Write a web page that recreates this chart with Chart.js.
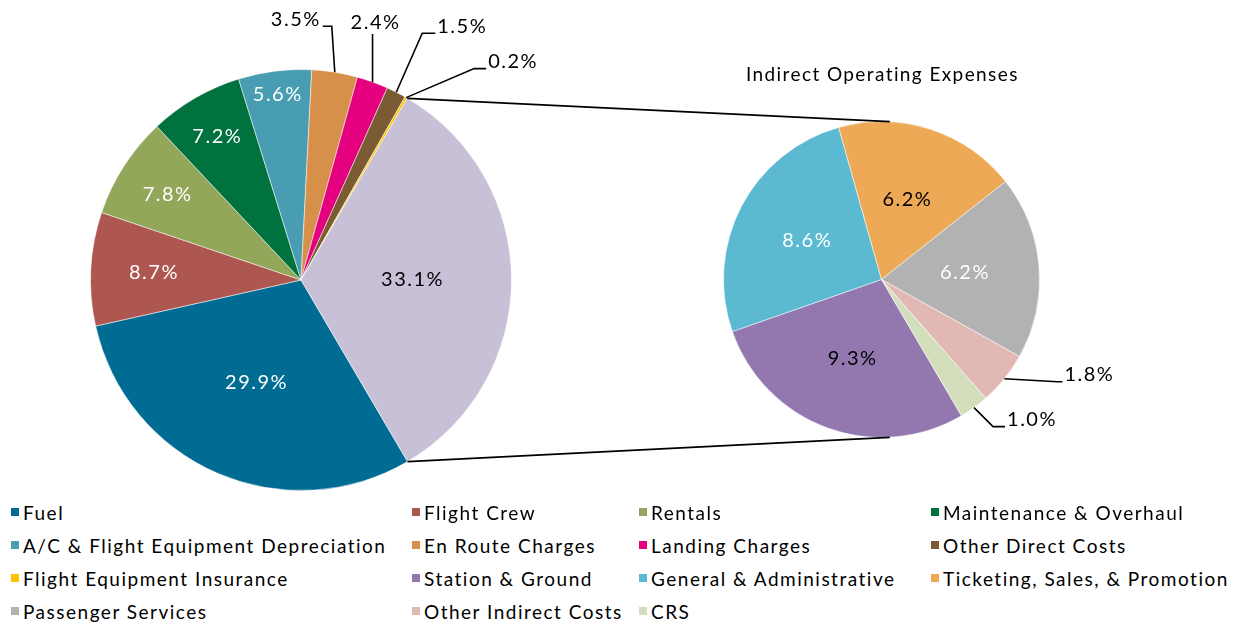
<!DOCTYPE html>
<html>
<head>
<meta charset="utf-8">
<title>Operating Expenses</title>
<script src="https://cdn.jsdelivr.net/npm/chart.js@4.4.1/dist/chart.umd.min.js"></script>
<style>
  body { margin: 0; background: #fff; font-family: Lato, sans-serif; }
  #wrap { position: relative; width: 1236px; height: 625px; overflow: hidden; }
  #wrap canvas { position: absolute; left: 0; top: 0; }
  #title { position: absolute; left: 746px; top: 64px; font-size: 19px; line-height: 19px; letter-spacing: 1.4px; color: #000; white-space: nowrap; }
  .item { position: absolute; height: 19px; font-size: 19px; line-height: 19px; letter-spacing: 1.5px; padding-left: 12px; color: #000; white-space: nowrap; }
  .item .box { position: absolute; left: 0; top: 5px; width: 8px; height: 8px; }
</style>
</head>
<body>
<div id="wrap">
  <canvas id="main" width="1236" height="500"></canvas>
  <canvas id="detail" width="1236" height="500"></canvas>
  <div id="title">Indirect Operating Expenses</div>
  <div id="legend"></div>
</div>
<script>
// data (percent of operating expenses)
var directLabels = ['Fuel', 'Flight Crew', 'Rentals', 'Maintenance & Overhaul',
  'A/C & Flight Equipment Depreciation', 'En Route Charges', 'Landing Charges',
  'Other Direct Costs', 'Flight Equipment Insurance'];
var directValues = [29.9, 8.7, 7.8, 7.2, 5.6, 3.5, 2.4, 1.5, 0.2];

var indirectLabels = ['Station & Ground', 'General & Administrative',
  'Ticketing, Sales, & Promotion', 'Passenger Services', 'Other Indirect Costs', 'CRS'];
var indirectValues = [9.3, 8.6, 6.2, 6.2, 1.8, 1.0];

var directColors = ['#006B93', '#AE5650', '#93A75A', '#00723E', '#499DB2',
  '#D6904A', '#E4007E', '#7A5B33', '#FCC400'];
var splitColor = '#C8C0D6';
var indirectColors = ['#9378B0', '#5CB9D2', '#EDA955', '#B2B2B2', '#E2B8B5', '#D3DFBC'];

// the split slice on the big pie is the sum of the indirect pie
var indirectTotal = indirectValues.reduce(function (a, b) { return a + b; }, 0);

var mainChart = null;

var labelPlugin = {
  id: 'sliceLabels',
  afterDatasetsDraw: function (chart, args, opts) {
    var ctx = chart.ctx;
    var meta = chart.getDatasetMeta(0);
    var values = chart.data.datasets[0].data;
    var total = values.reduce(function (a, b) { return a + b; }, 0);
    ctx.save();
    ctx.font = '20px Lato';
    ctx.letterSpacing = '1.5px';
    ctx.textAlign = 'center';
    ctx.textBaseline = 'middle';
    meta.data.forEach(function (arc, i) {
      var p = arc.getProps(['x', 'y', 'startAngle', 'endAngle', 'outerRadius'], true);
      var mid = (p.startAngle + p.endAngle) / 2;
      var text = values[i].toFixed(1) + '%';
      var out = opts.outside[i];
      if (out) {
        var ax = p.x + Math.cos(mid) * p.outerRadius;
        var ay = p.y + Math.sin(mid) * p.outerRadius;
        var tx = ax + out.dx, ty = ay + out.dy;
        var w = ctx.measureText(text).width;
        ctx.beginPath();
        ctx.moveTo(ax, ay);
        if (out.side === 'left') {
          ctx.lineTo(tx + w / 2 + 11, ty + 7);
          ctx.lineTo(tx + w / 2 + 2, ty + 7);
        } else if (out.side === 'right') {
          ctx.lineTo(tx - w / 2 - (out.gap || 14), ty + 7);
          ctx.lineTo(tx - w / 2 - 2, ty + 7);
        } else {
          ctx.lineTo(ax, ty + 11);
        }
        ctx.strokeStyle = '#000';
        ctx.lineWidth = 1.6;
        ctx.stroke();
        ctx.fillStyle = '#000';
        ctx.fillText(text, tx, ty);
      } else {
        var share = values[i] / total;
        var f = share > 0.15 ? 0.53 : Math.min(0.9, 0.7 + (0.087 - share) * 6);
        ctx.fillStyle = opts.colors[i];
        ctx.fillText(text, p.x + Math.cos(mid) * p.outerRadius * f,
          p.y + Math.sin(mid) * p.outerRadius * f);
      }
    });
    ctx.restore();
  }
};

// lines from the split slice of the big pie to the small pie
var connectorPlugin = {
  id: 'connectors',
  afterDraw: function (chart) {
    var big = mainChart.getDatasetMeta(0).data;
    var s = big[big.length - 1].getProps(['x', 'y', 'startAngle', 'endAngle', 'outerRadius'], true);
    var d = chart.getDatasetMeta(0).data[0].getProps(['x', 'y', 'outerRadius'], true);
    var a = 87 * Math.PI / 180;
    var ctx = chart.ctx;
    ctx.save();
    ctx.strokeStyle = '#000';
    ctx.lineWidth = 1.8;
    ctx.beginPath();
    ctx.moveTo(s.x + Math.cos(s.startAngle) * s.outerRadius, s.y + Math.sin(s.startAngle) * s.outerRadius);
    ctx.lineTo(d.x + Math.cos(-a) * d.outerRadius, d.y + Math.sin(-a) * d.outerRadius);
    ctx.moveTo(s.x + Math.cos(s.endAngle) * s.outerRadius, s.y + Math.sin(s.endAngle) * s.outerRadius);
    ctx.lineTo(d.x + Math.cos(a) * d.outerRadius, d.y + Math.sin(a) * d.outerRadius);
    ctx.stroke();
    ctx.restore();
  }
};

function pieOptions(padding, labelOpts) {
  return {
    responsive: false,
    animation: false,
    events: [],
    rotation: 149.6,
    layout: { padding: padding },
    plugins: {
      legend: { display: false },
      tooltip: { enabled: false },
      sliceLabels: labelOpts
    }
  };
}

mainChart = new Chart(document.getElementById('main').getContext('2d'), {
  type: 'pie',
  data: {
    labels: directLabels.concat(['Indirect Operating Expenses']),
    datasets: [{
      data: directValues.concat([indirectTotal]),
      backgroundColor: directColors.concat([splitColor]),
      borderColor: 'rgba(255,255,255,0.5)',
      borderWidth: 1
    }]
  },
  options: pieOptions({ left: 90, right: 724, top: 69, bottom: 9 }, {
    colors: ['#fff', '#fff', '#fff', '#fff', '#fff', '#000', '#000', '#000', '#000', '#000'],
    outside: {
      5: { dx: -39, dy: -53, side: 'left' },
      6: { dx: 3, dy: -59, side: 'up' },
      7: { dx: 66, dy: -66, side: 'right', gap: 15 },
      8: { dx: 107, dy: -36, side: 'right' }
    }
  }),
  plugins: [labelPlugin]
});

new Chart(document.getElementById('detail').getContext('2d'), {
  type: 'pie',
  data: {
    labels: indirectLabels,
    datasets: [{
      data: indirectValues,
      backgroundColor: indirectColors,
      borderColor: 'rgba(255,255,255,0.5)',
      borderWidth: 1
    }]
  },
  options: pieOptions({ left: 723, right: 196, top: 121, bottom: 62 }, {
    colors: ['#000', '#fff', '#000', '#fff', '#000', '#000'],
    outside: {
      4: { dx: 85, dy: -4, side: 'right', gap: 7 },
      5: { dx: 58, dy: 12, side: 'right' }
    }
  }),
  plugins: [labelPlugin, connectorPlugin]
});

// legend: direct items then indirect items, four per row
var legendNames = directLabels.concat(indirectLabels);
var legendColors = directColors.concat(indirectColors);
var colX = [11, 412, 639, 931];
var rowTop = [503, 536, 569, 602];
var legend = document.getElementById('legend');
legendNames.forEach(function (name, i) {
  var el = document.createElement('div');
  el.className = 'item';
  el.style.left = colX[i % 4] + 'px';
  el.style.top = rowTop[Math.floor(i / 4)] + 'px';
  var box = document.createElement('span');
  box.className = 'box';
  box.style.background = legendColors[i];
  el.appendChild(box);
  el.appendChild(document.createTextNode(name));
  legend.appendChild(el);
});
</script>
</body>
</html>
